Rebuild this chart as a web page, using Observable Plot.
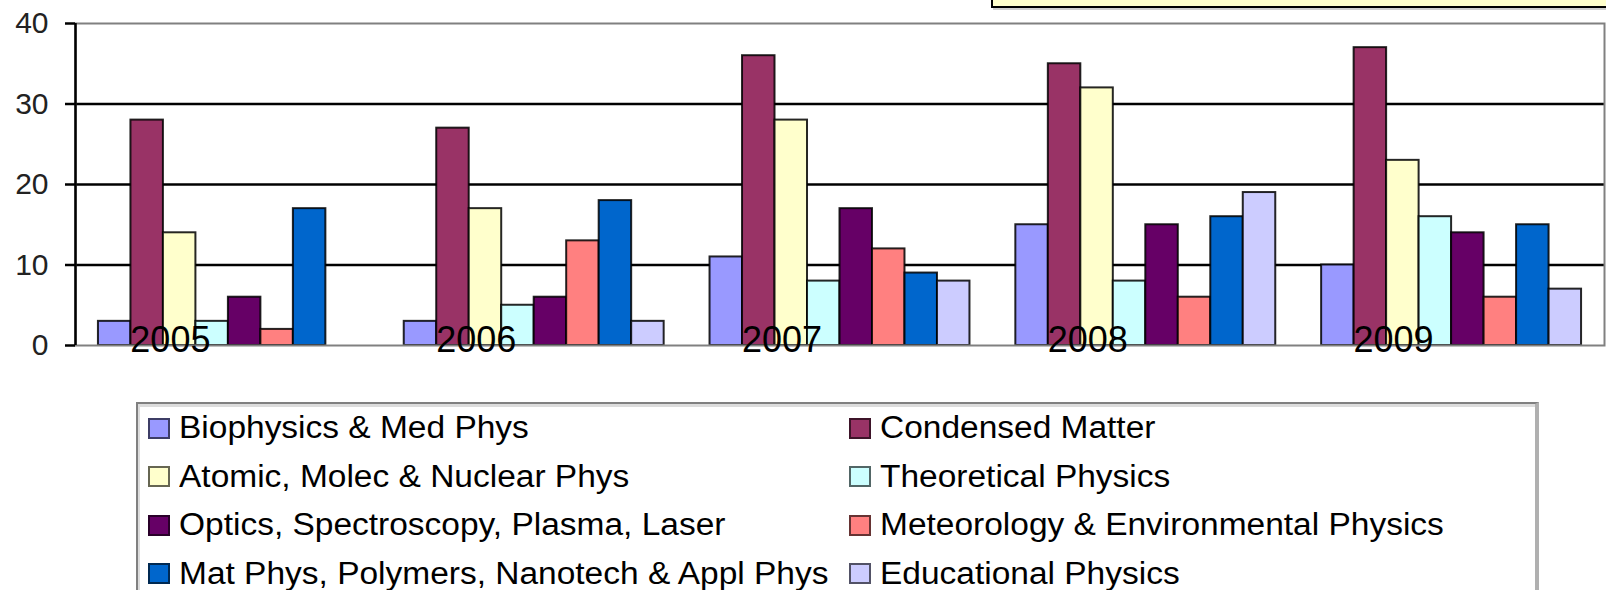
<!DOCTYPE html>
<html>
<head>
<meta charset="utf-8">
<script src="https://cdn.jsdelivr.net/npm/d3@7"></script>
<script src="https://cdn.jsdelivr.net/npm/@observablehq/plot@0.6"></script>
<style>
  html, body { margin: 0; padding: 0; background: #fff; overflow: hidden; }
  body { width: 1606px; height: 590px; position: relative; font-family: "Liberation Sans", Arial, sans-serif; }
  #titlebox { position: absolute; left: 991px; top: -40px; width: 640px; height: 44px; background: #FFFFCC; border: 2px solid #000; box-shadow: 2px 2px 0 #d0d0d0; }
  #chart { position: absolute; left: 0; top: 0; }
  #legend { position: absolute; left: 136px; top: 402px; width: 1397px; height: 220px;
            border-top: 2px solid #808080; border-left: 2px solid #808080; border-right: 4px solid #b0b0b0;
            box-shadow: inset 2px 3px 0 #dcdcdc; background: #fff; }
  .item { position: absolute; height: 32px; display: flex; align-items: center; white-space: nowrap; }
  .sw { width: 18px; height: 17px; border: 2px solid rgba(0,0,0,0.6); margin-right: 9px; flex: none; }
  .lbl { font-size: 31px; color: #000; transform: scaleX(1.08); transform-origin: left center; display: inline-block; }
</style>
</head>
<body>
<div id="titlebox"></div>
<div id="chart"></div>
<div id="legend"></div>
<script>
const years = [2005, 2006, 2007, 2008, 2009];
const categories = [
  "Biophysics & Med Phys",
  "Condensed Matter",
  "Atomic, Molec & Nuclear Phys",
  "Theoretical Physics",
  "Optics, Spectroscopy, Plasma, Laser",
  "Meteorology & Environmental Physics",
  "Mat Phys, Polymers, Nanotech & Appl Phys",
  "Educational Physics"
];
const colors = ["#9999FF", "#993366", "#FFFFCC", "#CCFFFF", "#660066", "#FF8080", "#0066CC", "#CCCCFF"];
const biophysics  = [3, 3, 11, 15, 10];
const condensed   = [28, 27, 36, 35, 37];
const atomic      = [14, 17, 28, 32, 23];
const theoretical = [3, 5, 8, 8, 16];
const optics      = [6, 6, 17, 15, 14];
const meteorology = [2, 13, 12, 6, 6];
const matphys     = [17, 18, 9, 16, 15];
const educational = [0, 3, 8, 19, 7];
const yTicks = [0, 10, 20, 30, 40];

const series = [biophysics, condensed, atomic, theoretical, optics, meteorology, matphys, educational];
const groupWidth = 0.85;
const barW = groupWidth / categories.length;
const rows = [];
series.forEach((vals, i) => {
  vals.forEach((v, j) => {
    rows.push({year: years[j], category: categories[i], index: i, value: v});
  });
});
const bars = rows.filter(d => d.value > 0);

const plot = Plot.plot({
  width: 1606,
  height: 360,
  marginLeft: 75,
  marginRight: 2,
  marginTop: 23,
  marginBottom: 15,
  style: {fontFamily: "Liberation Sans, Arial, sans-serif", background: "transparent", color: "#000"},
  x: {domain: [years[0] - 0.5, years[years.length - 1] + 0.5], axis: null},
  y: {domain: [0, 40], axis: null},
  color: {type: "ordinal", domain: categories, range: colors},
  marks: [
    Plot.ruleY(yTicks.filter(t => t > 0 && t < 40), {stroke: "#000", strokeWidth: 2.5}),
    Plot.rect(bars, {
      x1: d => d.year - groupWidth / 2 + d.index * barW,
      x2: d => d.year - groupWidth / 2 + (d.index + 1) * barW,
      y1: 0,
      y2: "value",
      fill: "category",
      stroke: "#000",
      strokeWidth: 2,
      strokeOpacity: 0.85
    }),
    Plot.frame({stroke: "#808080", strokeWidth: 2}),
    Plot.ruleX([years[0] - 0.5], {stroke: "#000", strokeWidth: 2.5}),
    Plot.axisY({ticks: yTicks, tickSize: 10, tickPadding: 17, fontSize: 30, stroke: "#000", strokeWidth: 2.5, fill: "#222", label: null}),
    Plot.text(years, {x: d => d, y: 0, text: d => String(d), dx: -58, dy: -5, fontSize: 36, fill: "#000"})
  ]
});
document.getElementById("chart").appendChild(plot);

// Legend (HTML, below the SVG)
const legend = document.getElementById("legend");
categories.forEach((c, i) => {
  const col = i % 2, row = Math.floor(i / 2);
  const item = document.createElement("div");
  item.className = "item";
  item.style.left = (col === 0 ? 10 : 711) + "px";
  item.style.top = (8 + row * 48.5) + "px";
  const sw = document.createElement("div");
  sw.className = "sw";
  sw.style.background = colors[i];
  const lbl = document.createElement("span");
  lbl.className = "lbl";
  lbl.textContent = c;
  item.appendChild(sw);
  item.appendChild(lbl);
  legend.appendChild(item);
});
</script>
</body>
</html>
